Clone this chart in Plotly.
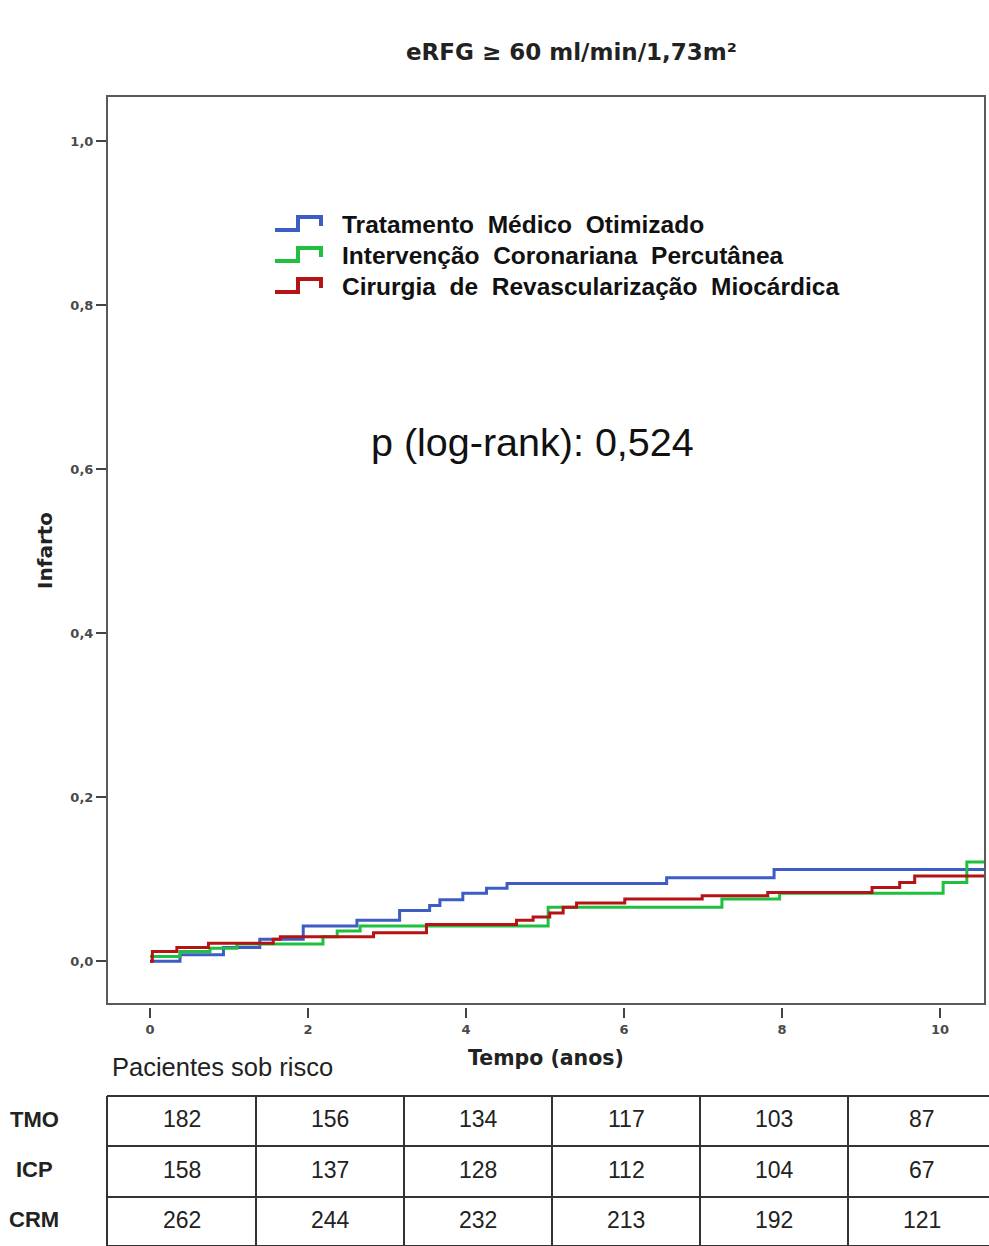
import plotly.graph_objects as go

# ---- Kaplan-Meier step curves (cumulative incidence of infarction) ----
t_tmo = [0, 0.38, 0.93, 1.39, 1.94, 2.62, 3.16, 3.54, 3.67, 3.96, 4.26, 4.52, 6.54, 7.90, 10.57]
y_tmo = [0.0, 0.008, 0.017, 0.027, 0.043, 0.050, 0.062, 0.068, 0.075, 0.083, 0.089, 0.095, 0.102, 0.112, 0.112]

t_icp = [0, 0.38, 0.76, 1.10, 2.19, 2.37, 2.66, 5.04, 7.24, 7.97, 10.04, 10.34, 10.57]
y_icp = [0.006, 0.012, 0.016, 0.021, 0.030, 0.037, 0.043, 0.066, 0.076, 0.083, 0.096, 0.121, 0.121]

t_crm = [0, 0.03, 0.34, 0.74, 1.56, 1.65, 2.83, 3.50, 4.64, 4.85, 5.06, 5.23, 5.40, 6.01, 6.99, 7.82, 9.14, 9.49, 9.68, 10.57]
y_crm = [0.0, 0.012, 0.017, 0.022, 0.027, 0.030, 0.035, 0.045, 0.050, 0.054, 0.059, 0.066, 0.071, 0.076, 0.080, 0.084, 0.090, 0.096, 0.104, 0.104]

group_names = ["Tratamento\u00a0 Médico\u00a0 Otimizado",
               "Intervenção\u00a0 Coronariana\u00a0 Percutânea",
               "Cirurgia\u00a0 de\u00a0 Revascularização\u00a0 Miocárdica"]
group_colors = ["#3d5cc4", "#1fbf3f", "#b41414"]

# ---- axis ticks ----
x_tickvals = [0, 2, 4, 6, 8, 10]
x_ticktext = ["0", "2", "4", "6", "8", "10"]
y_tickvals = [0.0, 0.2, 0.4, 0.6, 0.8, 1.0]
y_ticktext = ["0,0", "0,2", "0,4", "0,6", "0,8", "1,0"]

# ---- patients at risk table ----
risk_rows = ["TMO", "ICP", "CRM"]
risk_tmo = [182, 156, 134, 117, 103, 87]
risk_icp = [158, 137, 128, 112, 104, 67]
risk_crm = [262, 244, 232, 213, 192, 121]

p_text = "p (log-rank): 0,524"
title_text = "eRFG ≥ 60 ml/min/1,73m²"

# ---- page geometry (pixels) ----
W, H = 989, 1246
ML, MR, MT = 107, 4, 96
AX_BOTTOM = 1007          # x-axis baseline (ticks hang a little below the frame)
FRAME_BOTTOM = 1004
MB = H - AX_BOTTOM
PW = W - ML - MR
PH = AX_BOTTOM - MT


def xp(px):
    return (px - ML) / PW


def yp(py):
    return (AX_BOTTOM - py) / PH


def label(px, py, text, font, xanchor="center", **kw):
    return dict(x=xp(px), y=yp(py), xref="paper", yref="paper",
                xanchor=xanchor, yanchor="middle", text=text,
                showarrow=False, font=font, **kw)


fig = go.Figure()
for t, y, c in [(t_tmo, y_tmo, group_colors[0]),
                (t_icp, y_icp, group_colors[1]),
                (t_crm, y_crm, group_colors[2])]:
    fig.add_trace(go.Scatter(x=t, y=y, mode="lines",
                             line=dict(shape="hv", width=3, color=c),
                             showlegend=False, hoverinfo="skip"))

tick_font = dict(family="DejaVu Sans", size=13, color="#4a4a4a", weight="bold")

fig.update_layout(
    width=W, height=H,
    margin=dict(l=ML, r=MR, t=MT, b=MB, pad=0),
    paper_bgcolor="white", plot_bgcolor="white",
    xaxis=dict(range=[-0.544, 10.57], tickvals=x_tickvals, ticktext=x_ticktext,
               showgrid=False, zeroline=False, showline=False,
               ticks="outside", ticklen=10, tickwidth=2, tickcolor="#444",
               anchor="free", position=0, tickfont=tick_font),
    yaxis=dict(range=[-0.052, 1.055], tickvals=y_tickvals, ticktext=y_ticktext,
               domain=[yp(FRAME_BOTTOM), 1],
               showgrid=False, zeroline=False, showline=False,
               ticks="outside", ticklen=10, tickwidth=2, tickcolor="#444",
               tickfont=tick_font),
)

shapes = []
# plot frame
shapes.append(dict(type="rect", xref="paper", yref="paper",
                   x0=0, x1=xp(985), y0=yp(FRAME_BOTTOM), y1=1,
                   line=dict(color="#5a5a5a", width=2)))

bold_dv = lambda s: dict(family="DejaVu Sans", size=s, color="#222", weight="bold")
annotations = [
    label(571, 52, title_text, bold_dv(23)),
    label(546, 1058, "Tempo (anos)", bold_dv(20.5)),
    label(45, 551, "Infarto", bold_dv(20), textangle=-90),
    label(532, 442, p_text, dict(family="Liberation Sans", size=39.5, color="#111")),
]

# legend with step-line icons
for i, (name, col) in enumerate(zip(group_names, group_colors)):
    cy = 224 + 31 * i
    path = "M {} {} L {} {} L {} {} L {} {} L {} {}".format(
        xp(275), yp(cy + 6), xp(298), yp(cy + 6), xp(298), yp(cy - 7),
        xp(321), yp(cy - 7), xp(321), yp(cy + 2))
    shapes.append(dict(type="path", xref="paper", yref="paper", path=path,
                       line=dict(color=col, width=4)))
    annotations.append(label(340, cy, name,
                             dict(family="Liberation Sans", size=24.5, color="#111", weight="bold"),
                             xanchor="left"))

# patients at risk table
annotations.append(label(110, 1067, "Pacientes sob risco",
                         dict(family="Liberation Sans", size=25.5, color="#222"), xanchor="left"))

col_edges = [107, 256, 404, 552, 700, 848, 996]
row_edges = [1096, 1146, 1197, 1246]
for y_line in row_edges:
    shapes.append(dict(type="line", xref="paper", yref="paper",
                       x0=xp(107), x1=xp(989), y0=yp(y_line), y1=yp(y_line),
                       line=dict(color="#333", width=2)))
for x_line in col_edges[:-1]:
    shapes.append(dict(type="line", xref="paper", yref="paper",
                       x0=xp(x_line), x1=xp(x_line), y0=yp(1096), y1=yp(1246),
                       line=dict(color="#333", width=2)))

for r, (row_name, vals) in enumerate(zip(risk_rows, [risk_tmo, risk_icp, risk_crm])):
    cy = (row_edges[r] + row_edges[r + 1]) / 2 - 2
    annotations.append(label(34, cy, row_name,
                             dict(family="Liberation Sans", size=22, color="#222", weight="bold")))
    for c, v in enumerate(vals):
        cx = (col_edges[c] + col_edges[c + 1]) / 2
        annotations.append(label(cx, cy, str(v),
                                 dict(family="Liberation Sans", size=23, color="#222")))

fig.update_layout(shapes=shapes, annotations=annotations)
fig.write_html("out.html")
